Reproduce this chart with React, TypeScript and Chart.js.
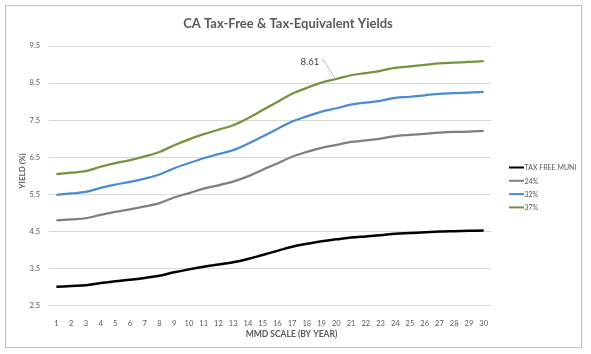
import React, { useEffect, useRef } from "react";
import { Chart, registerables } from "chart.js";

Chart.register(...registerables);

const years = Array.from({ length: 30 }, (_, i) => String(i + 1));
const seriesNames = ["TAX FREE MUNI", "24%", "32%", "37%"];
const taxFree = [3.0, 3.02, 3.04, 3.1, 3.15, 3.19, 3.24, 3.3, 3.39, 3.47, 3.54, 3.6, 3.66, 3.75, 3.86, 3.97, 4.08, 4.16, 4.23, 4.28, 4.33, 4.36, 4.39, 4.43, 4.45, 4.47, 4.49, 4.5, 4.51, 4.52];
const rate24 = [4.79, 4.82, 4.85, 4.94, 5.02, 5.09, 5.17, 5.26, 5.41, 5.53, 5.65, 5.74, 5.84, 5.98, 6.16, 6.33, 6.51, 6.64, 6.75, 6.83, 6.91, 6.95, 7.0, 7.07, 7.1, 7.13, 7.16, 7.18, 7.19, 7.21];
const rate32 = [5.48, 5.52, 5.56, 5.67, 5.76, 5.83, 5.92, 6.03, 6.2, 6.34, 6.47, 6.58, 6.69, 6.86, 7.06, 7.26, 7.46, 7.6, 7.73, 7.82, 7.92, 7.97, 8.02, 8.1, 8.13, 8.17, 8.21, 8.23, 8.24, 8.26];
const rate37 = [6.04, 6.08, 6.12, 6.24, 6.34, 6.42, 6.52, 6.64, 6.82, 6.98, 7.12, 7.24, 7.36, 7.55, 7.77, 7.99, 8.21, 8.37, 8.51, 8.61, 8.71, 8.77, 8.83, 8.91, 8.95, 8.99, 9.03, 9.05, 9.07, 9.09];
const seriesColors = ["#000000", "#7f7f7f", "#4a8bd6", "#75923c"];
const labelledSeries = 3;
const labelledIndex = 19;

const FONT = "Lato, 'Noto Sans', sans-serif";
const TEXT = "#595959";

const overlay = {
  id: "overlay",
  afterDraw(chart: any) {
    const ctx = chart.ctx;
    ctx.save();
    // title
    ctx.fillStyle = TEXT;
    ctx.font = `bold 13px ${FONT}`;
    ctx.textAlign = "center";
    ctx.textBaseline = "middle";
    ctx.fillText("CA Tax-Free & Tax-Equivalent Yields", 282, 18);
    // axis titles
    ctx.font = `bold 8.5px ${FONT}`;
    ctx.fillText("MMD SCALE (BY YEAR)", 285.5, 328.5);
    ctx.save();
    ctx.translate(16.7, 165);
    ctx.rotate(-Math.PI / 2);
    ctx.font = `bold 8px ${FONT}`;
    ctx.fillText("YIELD (%)", 0, 0);
    ctx.restore();
    // legend
    ctx.font = `7px ${FONT}`;
    ctx.textAlign = "left";
    chart.data.datasets.forEach((ds: any, i: number) => {
      const y = 161.5 + i * 13.3;
      ctx.strokeStyle = ds.borderColor;
      ctx.lineWidth = 2;
      ctx.beginPath();
      ctx.moveTo(503, y);
      ctx.lineTo(518, y);
      ctx.stroke();
      ctx.fillStyle = TEXT;
      ctx.fillText(ds.label, 518.5, y + 0.5);
    });
    // data label with leader line
    const pt = chart.getDatasetMeta(labelledSeries).data[labelledIndex];
    const v = chart.data.datasets[labelledSeries].data[labelledIndex];
    ctx.fillStyle = "#404040";
    ctx.font = `9.5px ${FONT}`;
    ctx.textAlign = "right";
    ctx.fillText(v.toFixed(2), pt.x - 17, pt.y - 17);
    ctx.strokeStyle = "#a6a6a6";
    ctx.lineWidth = 0.75;
    ctx.beginPath();
    ctx.moveTo(pt.x - 15, pt.y - 19);
    ctx.lineTo(pt.x - 13, pt.y - 19);
    ctx.lineTo(pt.x - 1.5, pt.y - 1);
    ctx.stroke();
    ctx.restore();
  },
};

export default function App() {
  const ref = useRef<HTMLCanvasElement>(null);
  useEffect(() => {
    const values = [taxFree, rate24, rate32, rate37];
    const chart = new Chart(ref.current!, {
      type: "line",
      data: {
        labels: years,
        datasets: values.map((d, i) => ({
          label: seriesNames[i],
          data: d,
          borderColor: seriesColors[i],
          backgroundColor: seriesColors[i],
          borderWidth: i === 0 ? 2.5 : 2.25,
          pointRadius: 0,
          tension: 0.35,
          fill: false,
        })),
      },
      options: {
        responsive: false,
        animation: false,
        layout: { padding: { top: 40, right: 90, left: 0, bottom: 0 } },
        plugins: { legend: { display: false }, title: { display: false }, tooltip: { enabled: false } },
        scales: {
          x: {
            offset: true,
            grid: { display: false },
            border: { display: false },
            ticks: { color: TEXT, font: { family: FONT, size: 7.5 }, padding: 6, maxRotation: 0, autoSkip: false },
            afterFit: (s: any) => { s.height = 41.7; },
          },
          y: {
            min: 2.5,
            max: 9.5,
            grid: { color: "#d9d9d9", drawTicks: false, lineWidth: 1 },
            border: { display: false },
            ticks: { stepSize: 1, color: TEXT, font: { family: FONT, size: 7.5 }, padding: 9, callback: (v: any) => Number(v).toFixed(1) },
            afterFit: (s: any) => { s.width = 43; },
          },
        },
      },
      plugins: [overlay],
    });
    return () => chart.destroy();
  }, []);
  return (
    <div style={{ position: "absolute", left: 5, top: 5, width: 575, height: 341, border: "1px solid #bfbfbf", background: "#fff" }}>
      <canvas ref={ref} width={575} height={341} style={{ width: 575, height: 341, display: "block" }} />
    </div>
  );
}
